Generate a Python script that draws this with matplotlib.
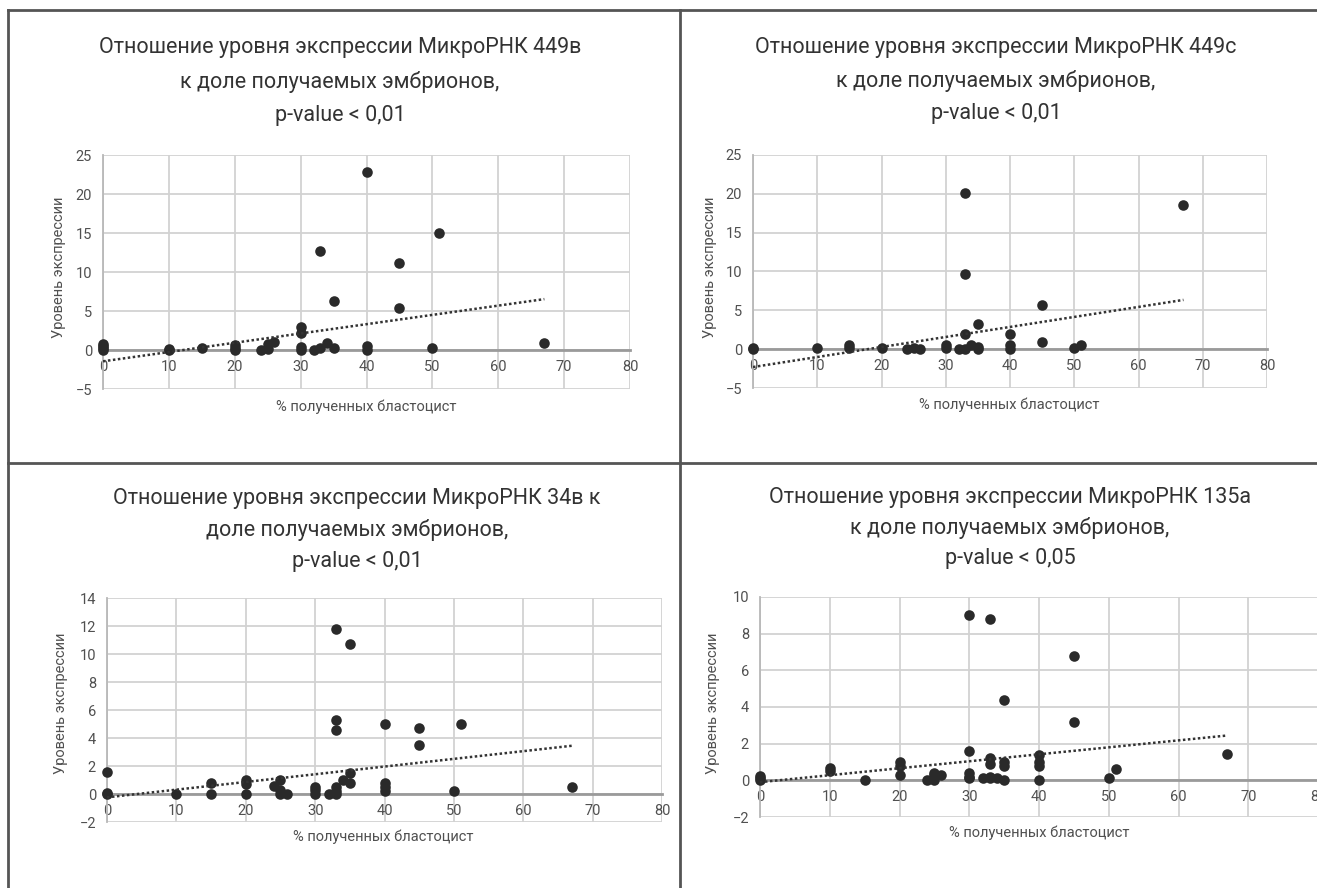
import matplotlib
matplotlib.use("Agg")
import matplotlib.pyplot as plt
from matplotlib.lines import Line2D
import numpy as np

W, H = 1317, 888
plt.rcParams['font.family'] = ['Roboto', 'DejaVu Sans']

# МикроРНК 449в
x_449b = [0, 0, 0, 0, 10, 10, 15, 20, 20, 20, 24, 25, 25, 26, 30, 30, 30, 30,
          32, 33, 33, 34, 35, 35, 40, 40, 40, 45, 45, 50, 51, 67]
y_449b = [0, 0.3, 0.5, 0.8, 0, 0.1, 0.2, 0, 0.3, 0.7, 0, 0.1, 0.8, 1.0, 0, 0.4, 2.2, 3.0,
          0, 0.2, 12.7, 0.9, 0.2, 6.3, 0, 0.5, 22.8, 11.2, 5.4, 0.2, 15.0, 0.9]

# МикроРНК 449с
x_449c = [0, 0, 10, 15, 15, 20, 24, 25, 26, 30, 30, 32, 33, 33, 33, 33, 34,
          35, 35, 35, 40, 40, 40, 45, 45, 50, 51, 67]
y_449c = [0, 0.2, 0.1, 0.2, 0.6, 0.1, 0, 0.2, 0, 0.1, 0.5, 0, 0, 2.0, 9.7, 20.1, 0.5,
          0, 0.3, 3.3, 0, 0.5, 1.9, 5.7, 0.9, 0.2, 0.5, 18.6]

# МикроРНК 34в
x_34b = [0, 0, 0, 10, 15, 15, 20, 20, 20, 24, 25, 25, 25, 26, 30, 30, 30, 32,
         33, 33, 33, 33, 33, 33, 34, 35, 35, 35, 40, 40, 40, 40, 45, 45, 50, 51, 67]
y_34b = [0, 0.1, 1.6, 0, 0, 0.8, 0, 0.7, 1.0, 0.6, 0, 0.3, 1.0, 0, 0, 0.3, 0.5, 0,
         0, 0.2, 0.5, 4.6, 5.3, 11.8, 1.0, 0.8, 1.5, 10.7, 0.2, 0.5, 0.8, 5.0, 4.7, 3.5, 0.2, 5.0, 0.5]

# МикроРНК 135а
x_135a = [0, 0, 0, 10, 10, 15, 20, 20, 20, 24, 25, 25, 25, 26, 30, 30, 30, 30, 30,
          32, 33, 33, 33, 33, 33, 34, 35, 35, 35, 35, 40, 40, 40, 40, 45, 45, 50, 51, 67]
y_135a = [0, 0.1, 0.25, 0.5, 0.65, 0, 0.3, 0.8, 1.0, 0, 0, 0.3, 0.4, 0.3, 0.1, 0.2, 0.4, 1.6, 9.0,
          0.1, 0.1, 0.2, 0.9, 1.2, 8.8, 0.1, 0, 0.8, 1.0, 4.4, 0, 0.8, 1.0, 1.4, 6.8, 3.2, 0.1, 0.6, 1.45]

# linear trend lines (intercept, slope)
trend_449b = (-1.45, 0.119)
trend_449c = (-2.3, 0.129)
trend_34b = (-0.24, 0.055)
trend_135a = (-0.1, 0.038)

titles = [
    ["Отношение уровня экспрессии МикроРНК 449в", "к доле получаемых эмбрионов,", "p-value < 0,01"],
    ["Отношение уровня экспрессии МикроРНК 449с", "к доле получаемых эмбрионов,", "p-value < 0,01"],
    ["Отношение уровня экспрессии МикроРНК 34в к", "доле получаемых эмбрионов,", "p-value < 0,01"],
    ["Отношение уровня экспрессии МикроРНК 135а", "к доле получаемых эмбрионов,", "p-value < 0,05"],
]
x_label = "% полученных бластоцист"
y_label = "Уровень экспрессии"

panels = [
    dict(x=x_449b, y=y_449b, trend=trend_449b, ylim=(-5, 25), ystep=5, title=titles[0],
         box=(103, 155, 630, 389), tx=340, ty=(47, 82, 115), yl=(59, 267), xl=(366, 407)),
    dict(x=x_449c, y=y_449c, trend=trend_449c, ylim=(-5, 25), ystep=5, title=titles[1],
         box=(753, 155, 1267, 388), tx=996, ty=(47, 81, 113), yl=(710, 267), xl=(1009, 405)),
    dict(x=x_34b, y=y_34b, trend=trend_34b, ylim=(-2, 14), ystep=2, title=titles[2],
         box=(107, 598, 662, 822), tx=357, ty=(498, 530, 562), yl=(61, 703), xl=(383, 837)),
    dict(x=x_135a, y=y_135a, trend=trend_135a, ylim=(-2, 10), ystep=2, title=titles[3],
         box=(760, 597, 1318, 817), tx=1010, ty=(497, 528, 558), yl=(713, 703), xl=(1039, 833)),
]


def fx(px):
    return px / W


def fy(py):
    return 1 - py / H


fig = plt.figure(figsize=(W / 100, H / 100), dpi=100)
fig.patch.set_facecolor("white")

text_col = "#333333"
tick_col = "#505050"

for p in panels:
    l, t, r, b = p["box"]
    ax = fig.add_axes([fx(l), fy(b), (r - l) / W, (b - t) / H])
    ax.set_xlim(0, 80)
    ax.set_ylim(*p["ylim"])
    ax.set_xticks(range(0, 81, 10))
    ax.set_yticks(np.arange(p["ylim"][0], p["ylim"][1] + 0.1, p["ystep"]))
    ax.grid(True, color="#d2d2d2", lw=1.3)
    ax.set_axisbelow(True)
    for s in ("top", "right"):
        ax.spines[s].set_visible(False)
    ax.spines["bottom"].set_position(("data", 0))
    ax.spines["bottom"].set_color("#9a9a9a")
    ax.spines["bottom"].set_linewidth(2)
    ax.spines["left"].set_color("#b8b8b8")
    ax.spines["left"].set_linewidth(1.3)
    ax.tick_params(length=0, labelsize=10.5, colors=tick_col)
    ax.tick_params(axis="x", pad=7)
    ax.tick_params(axis="y", pad=8)

    xs = np.array(p["x"], dtype=float)
    ys = np.array(p["y"], dtype=float)
    ax.scatter(xs, ys, s=58, color="#2a2a2a", zorder=3, clip_on=False, linewidths=0)

    b0, b1 = p["trend"]
    tx_ = np.array([xs.min(), xs.max()])
    ax.plot(tx_, b0 + b1 * tx_, color="#333333", lw=1.8, ls=(0, (1, 1)), zorder=4)

    for line, yy in zip(p["title"], p["ty"]):
        fig.text(fx(p["tx"]), fy(yy), line, ha="center", va="center",
                 fontsize=15.5, color=text_col)
    fig.text(fx(p["yl"][0]), fy(p["yl"][1]), y_label, rotation=90,
             ha="center", va="center", fontsize=10.5, color=tick_col)
    fig.text(fx(p["xl"][0]), fy(p["xl"][1]), x_label,
             ha="center", va="center", fontsize=10.5, color=tick_col)

# table borders
border = dict(color="#555555", lw=2, transform=fig.transFigure)
fig.add_artist(Line2D([fx(8), fx(W)], [fy(10), fy(10)], **border))
fig.add_artist(Line2D([fx(8), fx(W)], [fy(463), fy(463)], **border))
fig.add_artist(Line2D([fx(8), fx(8)], [fy(10), fy(H)], **border))
fig.add_artist(Line2D([fx(680), fx(680)], [fy(10), fy(H)], **border))

fig.savefig("out.png", dpi=100)
